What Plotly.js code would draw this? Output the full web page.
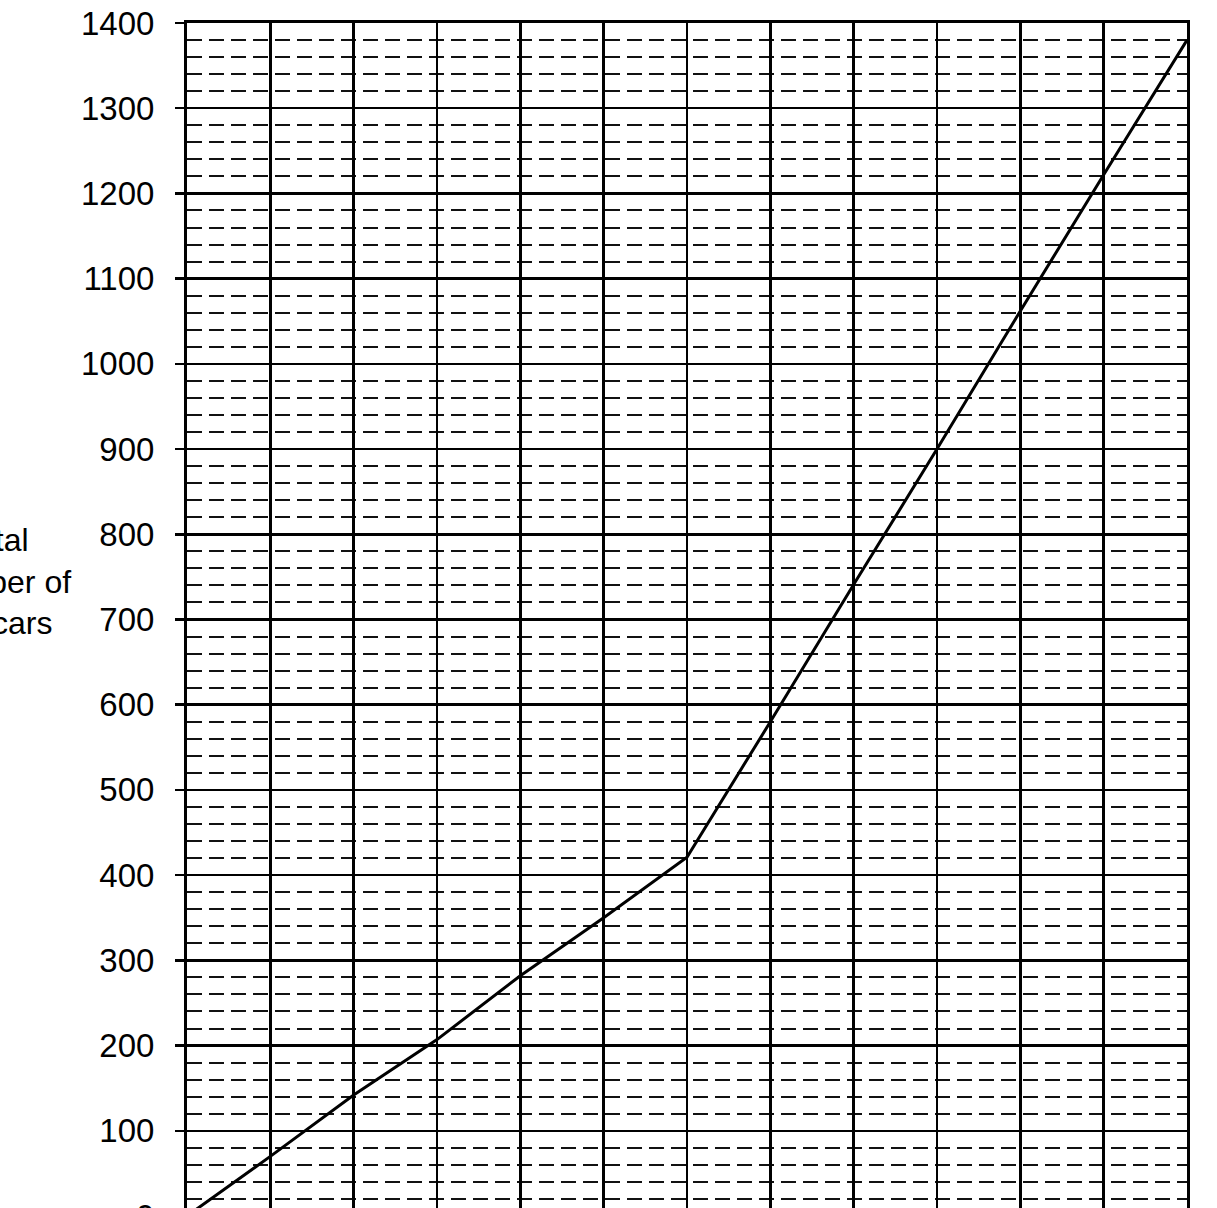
<!DOCTYPE html>
<html>
<head>
<meta charset="utf-8">
<script src="https://cdn.plot.ly/plotly-3.0.1.min.js"></script>
<style>
  html, body { margin: 0; padding: 0; width: 1217px; height: 1208px; overflow: hidden; background: #fff; }
  #chart { width: 1217px; height: 1300px; }
</style>
</head>
<body>
<div id="chart"></div>
<script>
// Data
const periods = [0, 1, 2, 3, 4, 5, 6, 7, 8, 9, 10, 11, 12];
const totalCars = [0, 70, 142, 207, 282, 350, 421, 580, 741, 900, 1062, 1222, 1380];
const titleLines = ["Total", "number of", "cars"];

const W = 1217, H = 1300;
const mL = 187, mR = 30, mT = 23, mB = 84;
const plotW = W - mL - mR, plotH = H - mT - mB;
const px2x = px => (px - mL) / plotW;
const py2y = py => 1 - (py - mT) / plotH;

const titleEnds = [31, 73, 54];
const titleYs = [540, 582, 623];

const annotations = titleLines.map((t, i) => ({
  text: t,
  xref: 'paper', yref: 'paper',
  x: px2x(titleEnds[i]), y: py2y(titleYs[i]),
  xanchor: 'right', yanchor: 'middle',
  showarrow: false,
  font: { family: 'Liberation Sans, Arial, sans-serif', size: 32, color: '#000' }
}));

const trace = {
  x: periods,
  y: totalCars,
  type: 'scatter',
  mode: 'lines',
  line: { color: '#000', width: 3 },
  hoverinfo: 'x+y'
};

const layout = {
  width: W, height: H,
  margin: { l: mL, r: mR, t: mT, b: mB },
  paper_bgcolor: '#fff', plot_bgcolor: '#fff',
  showlegend: false,
  font: { family: 'Liberation Sans, Arial, sans-serif', color: '#000' },
  xaxis: {
    range: [0, 12],
    tickmode: 'array', tickvals: periods,
    showgrid: true, gridcolor: '#000', gridwidth: 2.5,
    zeroline: false,
    showline: true, linecolor: '#000', linewidth: 3, mirror: true,
    ticks: '', showticklabels: false,
    fixedrange: true
  },
  yaxis: {
    range: [0, 1400],
    dtick: 100, tick0: 0,
    showgrid: true, gridcolor: '#000', gridwidth: 2.5,
    zeroline: false,
    showline: true, linecolor: '#000', linewidth: 3, mirror: true,
    ticks: 'outside', ticklen: 9, tickwidth: 2.5, tickcolor: '#000',
    ticklabelstandoff: 14,
    tickfont: { family: 'Liberation Sans, Arial, sans-serif', size: 33, color: '#000' },
    minor: {
      dtick: 20, tick0: 0,
      showgrid: true, gridcolor: '#111', gridwidth: 2,
      griddash: '15px,7px',
      ticks: ''
    },
    fixedrange: true
  },
  annotations: annotations
};

Plotly.newPlot('chart', [trace], layout, { displayModeBar: false, staticPlot: true });
</script>
</body>
</html>
